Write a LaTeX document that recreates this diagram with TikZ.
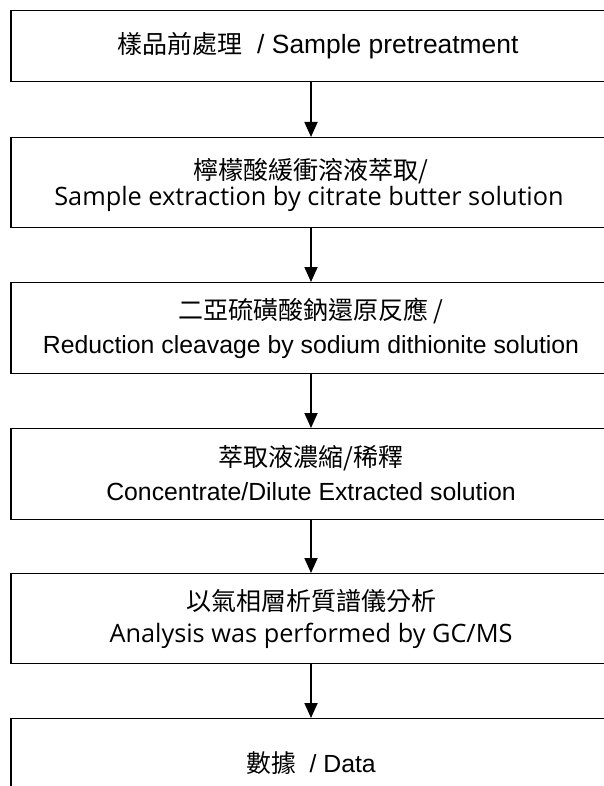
\documentclass[tikz,border=0pt]{standalone}
\usepackage{fontspec}
\setmainfont{Liberation Sans}
\newfontfamily\cjkf{Noto Sans CJK TC}
\newfontfamily\segf{Open Sans}
\usetikzlibrary{arrows.meta}
\begin{document}
\begin{tikzpicture}[x=1pt,y=-1pt,
  stepbox/.style={draw=black,line width=1.3pt,minimum width=600pt,inner sep=0pt,anchor=north},
  lbl/.style={inner sep=0pt,anchor=center,font=\fontsize{24.8}{30}\selectfont},
  biglbl/.style={inner sep=0pt,anchor=center,font=\fontsize{26.4}{30}\selectfont},
  cjklbl/.style={inner sep=0pt,anchor=center,font=\fontsize{25}{30}\selectfont\cjkf},
  seglbl/.style={inner sep=0pt,anchor=center,font=\fontsize{25.3}{30}\selectfont\segf},
  flow/.style={line width=1.8pt,-{Triangle[length=15pt,width=13pt]}}]
\useasboundingbox (0,0) rectangle (604,786);
\clip (0,0) rectangle (604,786);
% boxes
\node[stepbox,minimum height=71pt] (b1) at (311,10) {};
\node[stepbox,minimum height=90pt] (b2) at (311,137) {};
\node[stepbox,minimum height=91pt] (b3) at (311,282) {};
\node[stepbox,minimum height=91pt] (b4) at (311,428) {};
\node[stepbox,minimum height=90pt] (b5) at (311,573) {};
\node[stepbox,minimum height=120pt] (b6) at (311,718) {};
% texts
\node[biglbl] (t1) at (318,46) {{\fontsize{25}{30}\selectfont\cjkf 樣品前處理}\ \ / Sample pretreatment};
\node[cjklbl] (t2a) at (311,171) {檸檬酸緩衝溶液萃取/};
\node[seglbl] (t2b) at (309,199) {Sample extraction by citrate butter solution};
\node[cjklbl] (t3a) at (311,311) {二亞硫磺酸鈉還原反應\ /};
\node[lbl] (t3b) at (311,347) {Reduction cleavage by sodium dithionite solution};
\node[cjklbl] (t4a) at (311,458) {萃取液濃縮/稀釋};
\node[lbl] (t4b) at (311,492) {Concentrate/Dilute Extracted solution};
\node[cjklbl] (t5a) at (311,601) {以氣相層析質譜儀分析};
\node[seglbl] (t5b) at (311,636) {Analysis was performed by GC/MS};
\node[lbl] (t6) at (311,763) {{\cjkf 數據}\ \ / Data};
% arrows
\draw[flow] (b1.south) -- (b2.north);
\draw[flow] (b2.south) -- (b3.north);
\draw[flow] (b3.south) -- (b4.north);
\draw[flow] (b4.south) -- (b5.north);
\draw[flow] (b5.south) -- (b6.north);
\end{tikzpicture}
\end{document}
